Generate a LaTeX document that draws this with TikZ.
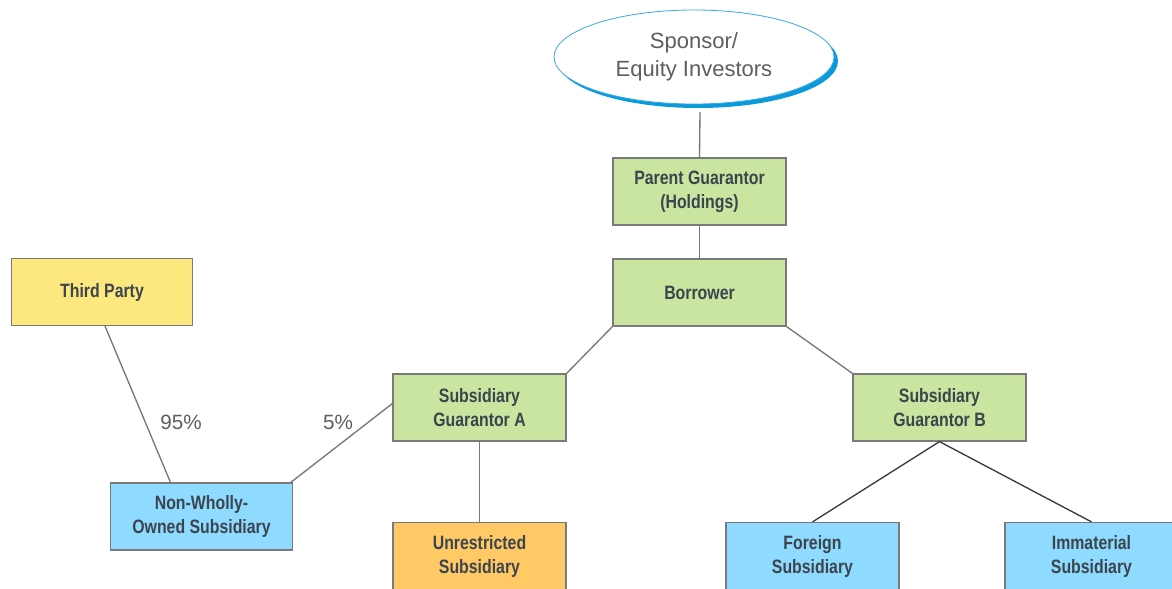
\documentclass[tikz,border=0pt]{standalone}
\usepackage{fontspec}
\setmainfont{Liberation Sans}
\newfontfamily\boxfont[FakeStretch=0.82]{Liberation Sans}
\usetikzlibrary{shapes.geometric,calc}
\definecolor{gfill}{HTML}{C9E5A0}
\definecolor{yfill}{HTML}{FDE87F}
\definecolor{bfill}{HTML}{8FDBFF}
\definecolor{ofill}{HTML}{FFC966}
\definecolor{bord}{HTML}{7A7A7A}
\definecolor{txt}{HTML}{3C444E}
\definecolor{ltxt}{HTML}{5E5E5E}
\definecolor{sponshadow}{HTML}{0B9BDA}
\definecolor{eline}{HTML}{3AA8E2}
\definecolor{conn}{HTML}{777777}
\definecolor{dconn}{HTML}{3A3A3A}
\tikzset{
  box/.style={draw=bord, line width=0.9pt, minimum width=129.75pt, minimum height=50.25pt,
    align=center, inner sep=0pt, text=txt, font=\boxfont\bfseries\fontsize{14.5}{18}\selectfont},
  wbox/.style={box, minimum width=136pt},
  link/.style={draw=conn, line width=1pt},
  dlink/.style={draw=dconn, line width=1pt},
  pct/.style={text=ltxt, font=\fontsize{15.5}{18}\selectfont, inner sep=0pt}
}
\begin{document}
\begin{tikzpicture}[x=0.75pt,y=-0.75pt]
\useasboundingbox (0,0) rectangle (1172,589);
\clip (0,0) rectangle (1172,589);
% nodes
\node[box, fill=gfill] (pg) at (699.5,191.5) {Parent Guarantor\\(Holdings)};
\node[box, fill=gfill] (bo) at (699.5,292.5) {Borrower};
\node[wbox, fill=yfill] (tp) at (102,292) {Third Party};
\node[box, fill=gfill] (sga) at (479.5,407.5) {Subsidiary\\Guarantor A};
\node[box, fill=gfill] (sgb) at (939.5,407.5) {Subsidiary\\Guarantor B};
\node[wbox, fill=bfill] (nw) at (201.5,516.5) {Non-Wholly-\\Owned Subsidiary};
\node[box, fill=ofill] (un) at (479.5,556) {Unrestricted\\Subsidiary};
\node[box, fill=bfill] (fs) at (812.5,556) {Foreign\\Subsidiary};
\node[box, fill=bfill] (im) at (1091.5,556) {Immaterial\\Subsidiary};
\coordinate (sp) at (700,112);
% connectors
\draw[link] (sp) -- (pg.north);
\draw[link] (pg.south) -- (bo.north);
\draw[link] (bo.south west) -- (sga.north east);
\draw[link] (bo.south east) -- (sgb.north west);
\draw[link] (sga.south) -- (un.north);
\draw[dlink] (sgb.south) -- (fs.north);
\draw[dlink] (sgb.south) -- (im.north);
\draw[link] ($(tp.south)+(3,0)$) -- ($(nw.north)+(-31,0)$);
\draw[link] ($(nw.north east)+(-2,0)$) -- ($(sga.west)+(0,-4)$);
\node[pct] (p95) at (181,422) {95\%};
\node[pct] (p5) at (338,422) {5\%};
% sponsor ellipse
\fill[sponshadow] (698,61) ellipse [x radius=140, y radius=47];
\node[ellipse, draw=eline, line width=0.6pt, fill=white, minimum width=210pt, minimum height=70.5pt,
  inner sep=0pt, align=center, text=ltxt, font=\fontsize{16.5}{21}\selectfont] (spon) at (694,57)
  {Sponsor/\\Equity Investors};
\end{tikzpicture}
\end{document}
